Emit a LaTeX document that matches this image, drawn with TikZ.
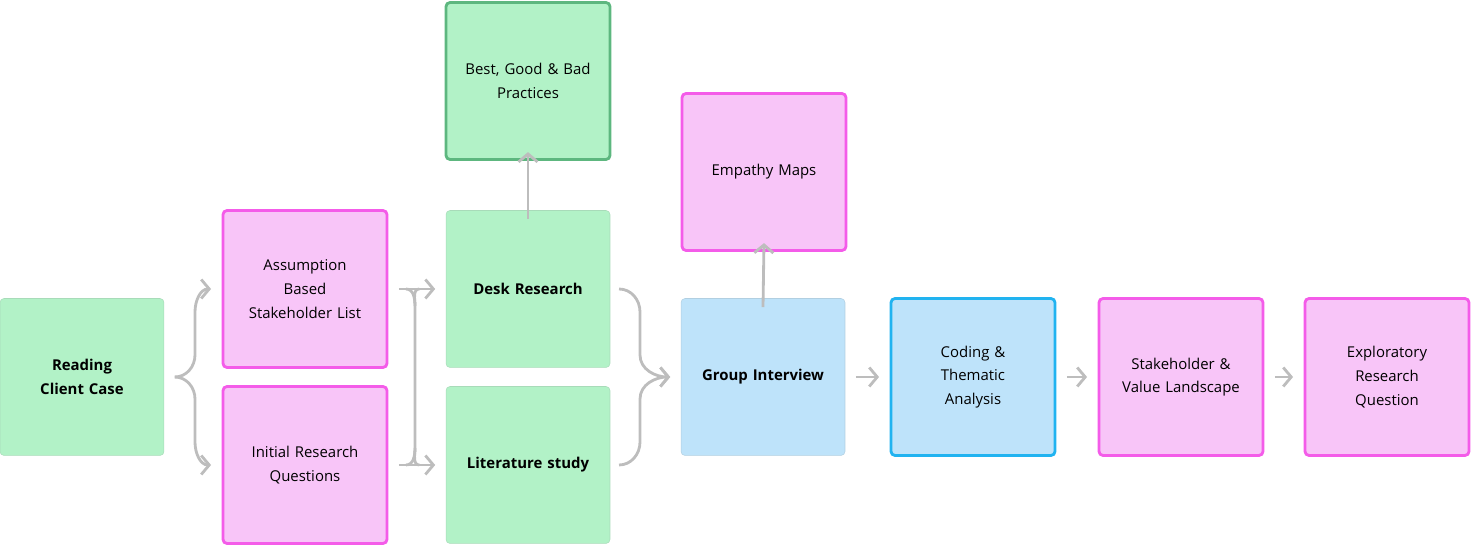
\documentclass[tikz,border=0pt]{standalone}
\usepackage{fontspec}
\setmainfont{Open Sans}
\usetikzlibrary{arrows.meta}
\definecolor{grn}{HTML}{B2F2C7}
\definecolor{grnline}{HTML}{5DB77F}
\definecolor{pnk}{HTML}{F8C5F8}
\definecolor{pnkline}{HTML}{F45CE9}
\definecolor{blu}{HTML}{BEE3FA}
\definecolor{bluline}{HTML}{21B3F0}
\definecolor{arr}{HTML}{BDBDBD}
\tikzset{
  box/.style={rounded corners=0.08cm, minimum width=3.28cm, minimum height=3.14cm,
    align=center, text width=3cm, font=\fontsize{8.5}{13.5}\selectfont, inner sep=0pt},
  greenbox/.style={box, fill=grn, draw=grn!80!gray, line width=0.3pt},
  pinkbox/.style={box, fill=pnk, draw=pnkline, line width=1.6pt},
  bluebox/.style={box, fill=blu, draw=blu!80!gray, line width=0.3pt},
  flow/.style={draw=arr, line width=1.6pt, -{Straight Barb[length=0.16cm,width=0.38cm]}},
  link/.style={draw=arr, line width=1.6pt}
}
\begin{document}
\begin{tikzpicture}[x=0.02cm, y=-0.02cm]
\useasboundingbox (0,0) rectangle (1472,546);

\node[greenbox] (read) at (82,377) {\textbf{Reading}\\\textbf{Client Case}};
\node[pinkbox] (assume) at (305,289) {Assumption\\Based\\Stakeholder List};
\node[pinkbox] (initial) at (305,465) {Initial Research\\Questions};
\node[greenbox, draw=grnline, line width=1.6pt] (practice) at (528,81) {Best, Good \& Bad\\Practices};
\node[greenbox] (desk) at (528,289) {\textbf{Desk Research}};
\node[greenbox] (lit) at (528,465) {\textbf{Literature study}};
\node[pinkbox] (empathy) at (764,172) {Empathy Maps};
\node[bluebox] (group) at (763,377) {\textbf{Group Interview}};
\node[bluebox, draw=bluline, line width=1.6pt] (coding) at (973,377) {Coding \&\\Thematic\\Analysis};
\node[pinkbox] (stake) at (1181,377) {Stakeholder \&\\Value Landscape};
\node[pinkbox] (explore) at (1387,377) {Exploratory\\Research\\Question};

% brace from the client case
\draw[flow] ([xshift=6]read.east) to[out=0,in=-90] (195,355) -- (195,312)
  to[out=90,in=180] ([xshift=-6]assume.west);
\draw[flow] ([xshift=6]read.east) to[out=0,in=90] (195,399) -- (195,442)
  to[out=-90,in=180] ([xshift=-6]initial.west);

% fork into the desk and literature study
\draw[flow] ([xshift=6]assume.east) -- ([xshift=-6]desk.west);
\draw[flow] ([xshift=6]initial.east) -- ([xshift=-6]lit.west);
\draw[link] ([xshift=10]assume.east) to[out=0,in=90] (415,306) -- (415,448)
  to[out=-90,in=180] ([xshift=-15]lit.west);
\draw[link] ([xshift=-15]desk.west) to[out=180,in=90] (415,306);
\draw[link] ([xshift=10]initial.east) to[out=0,in=-90] (415,448);

\draw[flow] ([yshift=-5]desk.north) -- ([yshift=5]practice.south);
\draw[flow] ([yshift=-5]group.north) -- ([yshift=5]empathy.south);

% brace into the group interview
\draw[flow] ([xshift=5]desk.east) to[out=0,in=90] (640,312) -- (640,355)
  to[out=-90,in=180] ([xshift=-6]group.west);
\draw[flow] ([xshift=5]lit.east) to[out=0,in=-90] (640,442) -- (640,399)
  to[out=90,in=180] ([xshift=-6]group.west);

\draw[flow] ([xshift=6]group.east) -- ([xshift=-6]coding.west);
\draw[flow] ([xshift=6]coding.east) -- ([xshift=-6]stake.west);
\draw[flow] ([xshift=6]stake.east) -- ([xshift=-6]explore.west);
\end{tikzpicture}
\end{document}
